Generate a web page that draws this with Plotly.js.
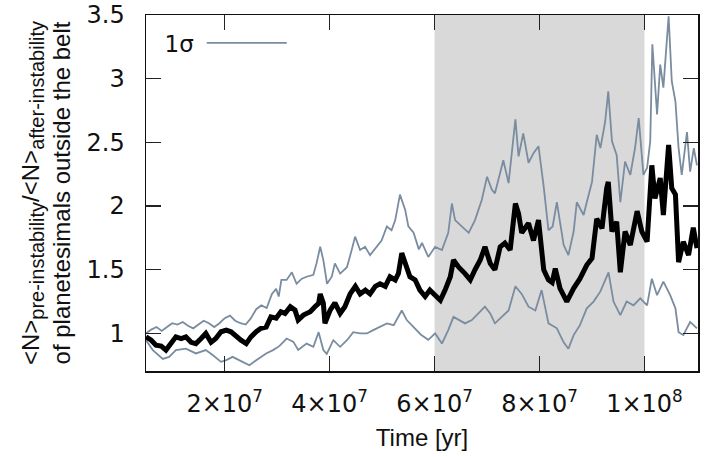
<!DOCTYPE html>
<html>
<head>
<meta charset="utf-8">
<script src="https://cdn.plot.ly/plotly-3.0.1.min.js"></script>
<style>
  html, body { margin: 0; padding: 0; background: #fff; }
  #chart { width: 705px; height: 457px; }
</style>
</head>
<body>
<div id="chart"></div>
<script>
// Time in units of 10^6 yr
const meanTimeMyr = [5.0,6.0,6.9,7.9,8.8,9.8,10.7,11.7,12.6,13.6,14.5,15.5,16.4,17.4,18.3,19.3,20.3,21.2,22.2,23.1,24.1,25.0,26.0,26.9,27.9,28.8,29.8,30.7,31.5,32.5,33.4,34.0,35.0,36.3,37.2,37.9,38.2,38.8,39.1,40.1,41.0,42.0,42.9,43.9,44.9,45.8,46.8,47.7,48.7,49.6,50.6,51.5,52.5,53.1,53.75,54.4,55.3,56.3,57.2,58.2,59.1,60.1,61.1,62.0,63.0,63.6,64.6,65.8,66.8,67.7,68.7,69.6,70.6,71.5,72.5,73.4,74.4,75.4,76.0,76.6,77.9,78.85,79.8,80.8,81.7,82.4,83.0,83.9,85.2,86.5,87.7,89.0,90.0,90.9,91.9,92.8,93.1,93.8,94.7,95.4,96.3,97.3,98.6,99.5,100.5,101.4,102.0,103.0,103.6,104.6,105.2,105.9,106.5,107.4,108.4,109.3,110.0];
const meanRatio = [0.973,0.947,0.908,0.90,0.869,0.92,0.973,0.96,0.973,0.93,0.92,0.96,1.0,0.93,0.96,1.013,1.026,1.013,0.973,0.947,0.92,0.973,1.013,1.04,1.05,1.13,1.12,1.17,1.157,1.21,1.183,1.105,1.144,1.17,1.21,1.236,1.31,1.236,1.08,1.183,1.24,1.157,1.21,1.31,1.37,1.31,1.34,1.31,1.37,1.39,1.37,1.445,1.42,1.47,1.63,1.55,1.445,1.42,1.34,1.29,1.34,1.30,1.26,1.34,1.445,1.576,1.52,1.47,1.42,1.50,1.576,1.68,1.55,1.50,1.68,1.71,1.655,2.02,1.94,1.79,1.865,1.73,1.89,1.50,1.42,1.40,1.51,1.354,1.25,1.354,1.43,1.537,1.59,1.90,1.825,2.14,2.19,1.80,1.877,1.48,1.80,1.694,1.96,1.80,1.72,2.32,2.06,2.22,1.93,2.48,2.14,2.09,1.56,1.72,1.615,1.83,1.67];

const upperTimeMyr = [5,6,7,8,9,10,11,12,13,14,15,16,17,18,19,20,21,22,23,24,25,26,27,28,29.0,29.8,30.3,30.8,31.8,32.8,33.7,34.7,35.6,36.9,37.5,38.2,38.8,39.5,40.4,41.0,42.0,43.3,44.2,44.85,45.8,46.75,47.7,49.0,49.9,50.9,51.8,52.5,53.4,54.4,55.0,56.0,57.0,57.6,58.8,60.1,61.4,62.6,63.3,63.9,65.2,66.5,67.7,69.0,70.0,70.9,71.5,73.1,74.1,75.4,76.0,76.9,77.9,78.85,79.8,80.8,81.7,82.5,83.3,84.6,85.5,86.5,87.1,88.4,89.0,90.0,90.9,91.6,92.5,93.1,93.8,94.7,95.4,96.3,97.3,98.2,98.9,99.8,100.5,101.1,101.5,102.4,103.0,103.6,104.6,105.2,105.9,106.5,107.1,108.1,108.7,109.4,110.0];
const upperSigma = [1.00,1.03,1.05,1.02,1.05,1.08,1.07,1.09,1.06,1.04,1.07,1.10,1.08,1.05,1.08,1.12,1.14,1.10,1.08,1.07,1.12,1.19,1.22,1.20,1.31,1.35,1.29,1.42,1.42,1.48,1.39,1.43,1.445,1.46,1.55,1.68,1.576,1.39,1.445,1.55,1.47,1.52,1.655,1.76,1.655,1.68,1.615,1.68,1.73,1.84,1.81,1.89,2.09,1.97,1.84,1.79,1.66,1.71,1.60,1.68,1.655,1.79,2.02,1.89,1.84,1.79,1.89,2.05,2.23,2.13,2.10,2.36,2.18,2.68,2.39,2.57,2.34,2.415,2.47,2.15,1.81,1.84,2.03,1.694,1.615,1.80,2.03,1.93,2.03,2.19,2.56,2.455,2.66,2.90,2.51,2.40,2.03,2.35,2.245,2.455,2.69,2.245,2.30,2.51,3.27,2.72,3.11,2.93,3.49,2.98,2.82,2.455,2.245,2.58,2.27,2.455,2.32];

const lowerTimeMyr = [5.0,6.3,8.2,9.4,10.7,12.6,14.5,16.4,17.7,19.3,20.3,21.5,23.4,24.7,26.0,27.9,29.2,30.4,31.8,33.1,34.0,35.6,36.9,37.9,38.8,39.45,40.7,42.0,43.3,44.5,45.8,47.1,48.3,49.6,50.9,52.2,53.75,54.7,56.0,57.4,58.8,60.1,61.4,62.6,63.6,64.6,65.8,67.1,68.4,69.6,70.6,71.5,72.8,74.1,75.4,76.6,77.9,79.2,80.4,81.7,82.5,83.3,84.6,85.5,86.5,87.7,89.0,90.3,91.6,93.15,94.1,95.4,96.6,97.9,99.2,100.5,101.4,102.4,103.6,104.9,105.9,106.5,107.4,108.7,110.0];
const lowerSigma = [0.947,0.869,0.80,0.816,0.869,0.88,0.843,0.869,0.83,0.777,0.79,0.816,0.777,0.75,0.79,0.843,0.869,0.90,0.96,0.934,0.87,0.92,0.895,1.01,0.87,0.84,0.947,0.895,0.947,1.01,1.0,1.0,1.026,1.05,1.079,1.065,1.18,1.105,1.052,0.99,0.95,1.0,0.92,1.026,1.13,1.105,1.079,1.105,1.157,1.21,1.157,1.079,1.13,1.18,1.37,1.31,1.21,1.18,1.34,1.079,1.06,1.04,0.93,0.88,0.987,1.065,1.197,1.25,1.33,1.48,1.25,1.144,1.25,1.22,1.275,1.22,1.43,1.30,1.406,1.30,1.197,1.01,0.987,1.09,1.04];

const xTickVals = [2e7, 4e7, 6e7, 8e7, 1e8];
const xTickText = ['2×10<sup>7</sup>', '4×10<sup>7</sup>', '6×10<sup>7</sup>', '8×10<sup>7</sup>', '1×10<sup>8</sup>'];
const yTickVals = [1, 1.5, 2, 2.5, 3, 3.5];
const instabilityWindow = [6e7, 1e8];
const legendLabel = '1σ';

const toYr = a => a.map(t => t * 1e6);
const sigmaColor = '#7a8ca0';
const tickFont = { family: 'DejaVu Sans', size: 24, color: '#111' };
const titleFont = { family: 'Liberation Sans', size: 24, color: '#111' };

const traces = [
  { x: toYr(upperTimeMyr), y: upperSigma, type: 'scatter', mode: 'lines',
    line: { color: sigmaColor, width: 1.8 }, name: ' ', showlegend: true, hoverinfo: 'skip' },
  { x: toYr(lowerTimeMyr), y: lowerSigma, type: 'scatter', mode: 'lines',
    line: { color: sigmaColor, width: 1.8 }, showlegend: false, hoverinfo: 'skip' },
  { x: toYr(meanTimeMyr), y: meanRatio, type: 'scatter', mode: 'lines',
    line: { color: '#000', width: 5 }, showlegend: false, hoverinfo: 'skip' }
];

const layout = {
  width: 705, height: 457,
  margin: { l: 146, r: 7, t: 15, b: 86 },
  paper_bgcolor: '#fff', plot_bgcolor: '#fff',
  showlegend: true,
  legend: {
    x: 0.03, y: 0.98, xanchor: 'left', yanchor: 'top',
    bgcolor: 'rgba(0,0,0,0)',
    title: { text: legendLabel, side: 'left', font: { family: 'DejaVu Sans', size: 23, color: '#111' } },
    font: { family: 'DejaVu Sans', size: 22, color: '#111' },
    itemwidth: 80
  },
  shapes: [{
    type: 'rect', xref: 'x', yref: 'paper',
    x0: instabilityWindow[0], x1: instabilityWindow[1], y0: 0, y1: 1,
    fillcolor: '#d9d9d9', line: { width: 0 }, layer: 'below'
  }],
  xaxis: {
    range: [5e6, 1.102e8],
    tickmode: 'array', tickvals: xTickVals, ticktext: xTickText,
    ticks: 'inside', ticklen: 15, tickwidth: 1.3, tickcolor: '#222',
    showline: true, linecolor: '#111', linewidth: 1.5, mirror: 'ticks',
    showgrid: false, zeroline: false,
    tickfont: tickFont, ticklabelstandoff: 11,
    title: { text: 'Time [yr]', font: titleFont, standoff: 12 }
  },
  yaxis: {
    range: [0.705, 3.5],
    tickmode: 'array', tickvals: yTickVals,
    ticks: 'inside', ticklen: 15, tickwidth: 1.3, tickcolor: '#222',
    showline: true, linecolor: '#111', linewidth: 1.5, mirror: 'ticks',
    showgrid: false, zeroline: false,
    tickfont: tickFont, ticklabelstandoff: 15,
    title: {
      text: '&lt;N&gt;<sub><span style="font-size:20px">pre-instability</span></sub>/&lt;N&gt;<sub><span style="font-size:20px">after-instability</span></sub><br>of planetesimals outside the belt',
      font: titleFont, standoff: 9
    }
  }
};

Plotly.newPlot('chart', traces, layout, { staticPlot: true, displayModeBar: false });
</script>
</body>
</html>
